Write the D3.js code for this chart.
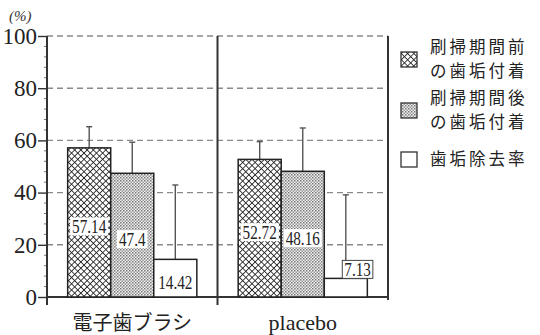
<!DOCTYPE html>
<html>
<head>
<meta charset="utf-8">
<script src="https://cdn.jsdelivr.net/npm/d3@7"></script>
<style>
  html, body { margin: 0; padding: 0; background: #fff; }
  svg { display: block; }
</style>
</head>
<body>
<svg id="chart" width="540" height="335"></svg>
<script>
// Plaque data: before/after brushing period and removal rate (%)
const categories = ["電子歯ブラシ", "placebo"];
const seriesKeys = ["before", "after", "removal"];
const seriesLabels = [["刷掃期間前", "の歯垢付着"], ["刷掃期間後", "の歯垢付着"], ["歯垢除去率"]];
const beforeValues = [57.14, 52.72];
const afterValues = [47.4, 48.16];
const removalValues = [14.42, 7.13];
// Standard deviations (upper whiskers)
const beforeSD = [8.1, 6.8];
const afterSD = [11.9, 16.6];
const removalSD = [28.5, 32.0];
const yTicks = [0, 20, 40, 60, 80, 100];

const ink = "#333";
const svg = d3.select("#chart");

const x0 = d3.scaleBand().domain(categories).range([47, 388]);
const x1 = d3.scaleBand().domain(seriesKeys).range([0, x0.bandwidth()]).paddingOuter(0.48);
const y = d3.scaleLinear().domain([0, 100]).range([297, 36]);

// Fill patterns
const defs = svg.append("defs");
const cross = defs.append("pattern").attr("id", "cross")
  .attr("patternUnits", "userSpaceOnUse").attr("width", 4.4).attr("height", 4.4)
  .attr("patternTransform", "rotate(45)");
cross.append("rect").attr("width", 4.4).attr("height", 4.4).attr("fill", "#fff");
cross.append("line").attr("x1", 0).attr("y1", 0).attr("x2", 0).attr("y2", 4.4)
  .attr("stroke", "#222").attr("stroke-width", 1.7);
cross.append("line").attr("x1", 0).attr("y1", 0).attr("x2", 4.4).attr("y2", 0)
  .attr("stroke", "#222").attr("stroke-width", 1.7);

const dots = defs.append("pattern").attr("id", "dots")
  .attr("patternUnits", "userSpaceOnUse").attr("width", 3).attr("height", 3);
dots.append("rect").attr("width", 3).attr("height", 3).attr("fill", "#f0f0f0");
dots.append("rect").attr("x", 0).attr("y", 0).attr("width", 1.5).attr("height", 1.5).attr("fill", "#777");
dots.append("rect").attr("x", 1.5).attr("y", 1.5).attr("width", 1.5).attr("height", 1.5).attr("fill", "#999");

const fills = { before: "url(#cross)", after: "url(#dots)", removal: "#fff" };

// Gridlines
svg.append("g").selectAll("line")
  .data(yTicks.filter(d => d > 0))
  .join("line")
  .attr("x1", 47).attr("x2", 388)
  .attr("y1", d => y(d)).attr("y2", d => y(d))
  .attr("stroke", "#8a8a8a").attr("stroke-width", 1.4)
  .attr("stroke-dasharray", "6,4");

// Y axis with major and minor ticks
const yAxis = d3.axisLeft(y).tickValues(yTicks).tickSize(9).tickPadding(1).tickFormat(d3.format("d"));
const gy = svg.append("g").attr("transform", "translate(47,0)").call(yAxis);
gy.select(".domain").remove();
gy.selectAll(".tick line").attr("stroke", ink).attr("stroke-width", 1.4);
gy.selectAll(".tick text")
  .attr("font-family", "Liberation Serif").attr("font-size", 23).attr("fill", "#222");
const minor = d3.range(0, 101, 4).filter(d => d % 20 !== 0);
svg.append("g").selectAll("line").data(minor).join("line")
  .attr("x1", 44).attr("x2", 47)
  .attr("y1", d => y(d)).attr("y2", d => y(d))
  .attr("stroke", "#777").attr("stroke-width", 1);

svg.append("text").attr("x", 9).attr("y", 21)
  .attr("font-family", "Liberation Serif").attr("font-style", "italic")
  .attr("font-size", 15).attr("fill", ink).text("(%)");

// Frame lines: axis, divider between groups, right edge, baseline
const frame = svg.append("g").attr("stroke", ink).attr("stroke-width", 2);
frame.append("line").attr("x1", 47).attr("x2", 47).attr("y1", y(100)).attr("y2", y(0) + 8);
frame.append("line").attr("x1", x0(categories[1])).attr("x2", x0(categories[1]))
  .attr("y1", y(100)).attr("y2", y(0) + 8);
frame.append("line").attr("x1", 388).attr("x2", 388).attr("y1", y(100)).attr("y2", y(0) + 3);
frame.append("line").attr("x1", 47).attr("x2", 388).attr("y1", y(0)).attr("y2", y(0));

// Bars
const rows = [];
categories.forEach((c, i) => {
  rows.push({ cat: c, key: "before", v: beforeValues[i], sd: beforeSD[i] });
  rows.push({ cat: c, key: "after", v: afterValues[i], sd: afterSD[i] });
  rows.push({ cat: c, key: "removal", v: removalValues[i], sd: removalSD[i] });
});
const bx = d => x0(d.cat) + x1(d.key);
const bw = x1.bandwidth();

// Error whiskers (upper only)
const err = svg.append("g").attr("stroke", "#555").attr("stroke-width", 1.4);
rows.forEach(d => {
  const cx = bx(d) + bw / 2;
  err.append("line").attr("x1", cx).attr("x2", cx).attr("y1", y(d.v)).attr("y2", y(d.v + d.sd));
  err.append("line").attr("x1", cx - 3).attr("x2", cx + 3).attr("y1", y(d.v + d.sd)).attr("y2", y(d.v + d.sd));
});

svg.append("g").selectAll("rect").data(rows).join("rect")
  .attr("x", bx).attr("width", bw)
  .attr("y", d => y(d.v)).attr("height", d => y(0) - y(d.v))
  .attr("fill", d => fills[d.key])
  .attr("stroke", "#222").attr("stroke-width", 1.5);

// Value labels
const lab = svg.append("g");
rows.forEach(d => {
  const txt = String(d.v);
  const inside = (y(0) - y(d.v)) > 24;
  const cx = inside ? bx(d) + bw / 2 : bx(d) + bw * 0.75 + 1;
  const cy = inside ? (y(d.v) + y(0)) / 2 + 4 : y(d.v) - 9;
  const g = lab.append("g").attr("transform", `translate(${cx},${cy})`);
  const t = g.append("text")
    .attr("transform", "scale(0.8,1)")
    .attr("text-anchor", "middle").attr("dy", "0.35em")
    .attr("font-family", "Liberation Serif").attr("font-size", 19)
    .attr("fill", "#222").text(txt);
  const w = t.node().getComputedTextLength() * 0.8;
  g.insert("rect", "text")
    .attr("x", -w / 2 - 2).attr("y", -9).attr("width", w + 4).attr("height", 18)
    .attr("fill", "#fff")
    .attr("stroke", inside ? "none" : "#444").attr("stroke-width", 1);
});

// Category labels
svg.append("g").selectAll("text").data(categories).join("text")
  .attr("x", d => x0(d) + x0.bandwidth() / 2).attr("y", 330)
  .attr("text-anchor", "middle")
  .attr("font-family", d => /[a-z]/.test(d) ? "Liberation Serif" : "Noto Sans CJK JP")
  .attr("font-size", d => /[a-z]/.test(d) ? 22 : 20)
  .attr("fill", "#222").text(d => d);

// Legend: swatch plus one text per line
const legend = svg.append("g");
const legendBoxY = [52, 103, 152];
const lineGap = 24;
seriesKeys.forEach((k, i) => {
  const lines = seriesLabels[i];
  legend.append("rect").attr("x", 401).attr("y", legendBoxY[i]).attr("width", 16).attr("height", 15)
    .attr("fill", fills[k]).attr("stroke", "#333").attr("stroke-width", 1.3);
  const midY = legendBoxY[i] + 7.5;
  lines.forEach((s, j) => {
    legend.append("text")
      .attr("x", 430)
      .attr("y", midY + (j - (lines.length - 1) / 2) * lineGap)
      .attr("dy", "0.36em")
      .attr("font-family", "Noto Sans CJK JP").attr("font-size", 16.5)
      .attr("letter-spacing", 3)
      .attr("fill", "#222").text(s);
  });
});
</script>
</body>
</html>
